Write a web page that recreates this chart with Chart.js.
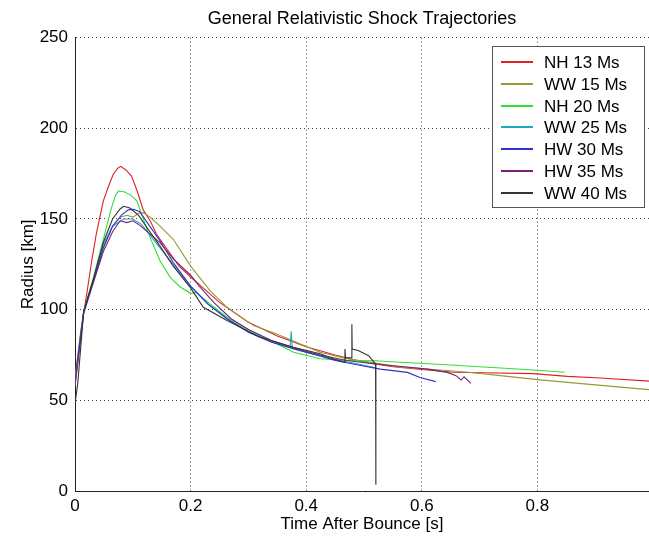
<!DOCTYPE html>
<html>
<head>
<meta charset="utf-8">
<script src="https://cdn.jsdelivr.net/npm/chart.js@4.4.0/dist/chart.umd.min.js"></script>
<style>
  html, body { margin: 0; padding: 0; background: #fff; overflow: hidden; }
  #wrap { width: 649px; height: 541px; }
</style>
</head>
<body>
<div id="wrap"><canvas id="shockChart" width="649" height="541"></canvas></div>
<script>
// shock radius [km] vs time after bounce [s]
const seriesNames = ['NH 13 Ms', 'WW 15 Ms', 'NH 20 Ms', 'WW 25 Ms', 'HW 30 Ms', 'HW 35 Ms', 'WW 40 Ms'];
const seriesColors = ['#dd2222', '#999933', '#33dd33', '#22aabb', '#3333cc', '#772277', '#333333'];

const nh13T = [0, 0.01, 0.02, 0.029, 0.037, 0.049, 0.058, 0.066, 0.074, 0.079, 0.088, 0.098, 0.108, 0.118, 0.13, 0.141, 0.16, 0.18, 0.2, 0.225, 0.25, 0.3, 0.35, 0.4, 0.45, 0.5, 0.55, 0.6, 0.655, 0.707, 0.793, 0.852, 0.909, 0.993];
const nh13R = [62, 88, 108, 127, 142, 160, 168, 174.5, 178, 179, 177, 173.5, 165, 155, 149, 141.6, 133, 124, 118, 111, 104, 93, 85.5, 79.5, 75, 71, 68.5, 67, 65.5, 65.2, 64.7, 63.2, 62.3, 60.6];

const ww15T = [0, 0.015, 0.032, 0.05, 0.065, 0.078, 0.09, 0.1, 0.11, 0.118, 0.13, 0.147, 0.17, 0.2, 0.234, 0.263, 0.309, 0.349, 0.39, 0.424, 0.47, 0.52, 0.563, 0.62, 0.68, 0.74, 0.8, 0.9, 0.993];
const ww15R = [58, 98, 117, 135, 146, 151, 152, 151, 153, 153.5, 151, 146, 138.8, 124, 110.4, 101.3, 91.2, 86.6, 81.1, 76.5, 73, 70.5, 68.3, 67, 65.5, 63.5, 61.4, 58.5, 55.9];

const nh20T = [0, 0.015, 0.032, 0.05, 0.062, 0.07, 0.075, 0.085, 0.097, 0.107, 0.118, 0.13, 0.147, 0.165, 0.182, 0.2, 0.21, 0.234, 0.263, 0.297, 0.338, 0.378, 0.424, 0.47, 0.52, 0.563, 0.62, 0.7, 0.78, 0.847];
const nh20R = [60, 99, 118, 140, 155, 163, 165.4, 165, 163, 160, 150, 139.7, 127, 117.7, 112.5, 109, 109.5, 103, 95.8, 89.4, 83, 76.5, 72.9, 72, 71.8, 71, 70, 68.5, 67, 65.5];

const ww25T = [0, 0.015, 0.032, 0.049, 0.065, 0.084, 0.1, 0.115, 0.13, 0.147, 0.17, 0.2, 0.23, 0.263, 0.3, 0.34, 0.372, 0.374, 0.376, 0.41, 0.45, 0.49, 0.52];
const ww25R = [62, 99, 117, 136, 146, 150, 150, 147, 141, 134, 125, 113, 103, 95, 88, 82.5, 79, 88, 78.5, 75.5, 72.5, 70, 68];

const hw30T = [0, 0.015, 0.032, 0.049, 0.065, 0.08, 0.092, 0.101, 0.112, 0.125, 0.147, 0.17, 0.2, 0.23, 0.263, 0.3, 0.34, 0.378, 0.424, 0.45, 0.49, 0.528, 0.575, 0.597, 0.624];
const hw30R = [60, 99, 116, 134, 146, 152, 155, 155.3, 154, 148, 138, 126, 113, 103, 95, 87.5, 82, 78.5, 74.5, 72, 69.5, 67.2, 65.4, 62.6, 60.3];

const hw35T = [0, 0.015, 0.032, 0.049, 0.065, 0.078, 0.09, 0.1, 0.11, 0.125, 0.147, 0.17, 0.19, 0.2, 0.215, 0.24, 0.27, 0.3, 0.34, 0.378, 0.424, 0.47, 0.52, 0.57, 0.61, 0.644, 0.659, 0.668, 0.673, 0.685];
const hw35R = [58, 98, 115, 132, 143, 149, 148, 149, 147, 143, 137, 128, 122, 119, 113, 104, 95, 89, 83, 79, 75, 72, 70, 68.5, 67.2, 65.4, 63.6, 61.2, 63, 59.3];

const ww40T = [0, 0.005, 0.015, 0.032, 0.049, 0.065, 0.078, 0.084, 0.095, 0.11, 0.125, 0.147, 0.17, 0.2, 0.222, 0.263, 0.32, 0.378, 0.424, 0.45, 0.466, 0.467, 0.468, 0.478, 0.479, 0.4795, 0.49, 0.508, 0.515, 0.52, 0.5205];
const ww40R = [48, 60, 99, 117, 137, 150, 155.5, 157, 156, 152, 145, 135, 124, 112, 101.3, 94, 84.8, 79.3, 75.7, 72.5, 71, 78.3, 73.5, 73.5, 92, 78.3, 77.5, 74.6, 71.9, 70, 3.5];

const seriesT = [nh13T, ww15T, nh20T, ww25T, hw30T, hw35T, ww40T];
const seriesR = [nh13R, ww15R, nh20R, ww25R, hw30R, hw35R, ww40R];

const xTicks = [0, 0.2, 0.4, 0.6, 0.8];
const yTicks = [0, 50, 100, 150, 200, 250];

const FONT = "'Liberation Sans', Arial, Helvetica, sans-serif";

function toPoints(ts, rs) {
    return ts.map((t, i) => ({ x: t, y: rs[i] }));
}

const datasets = seriesNames.map((name, i) => ({
    label: name,
    data: toPoints(seriesT[i], seriesR[i]),
    borderColor: seriesColors[i],
    backgroundColor: seriesColors[i],
    borderWidth: 1.1,
    pointRadius: 0,
    tension: 0,
    fill: false,
    order: seriesNames.length - i // later series on top, like matlab
}));

// legend box drawn inside the plot, top right
const boxLegend = {
    id: 'boxLegend',
    afterDraw(chart) {
        const ctx = chart.ctx;
        const area = chart.chartArea;
        const w = 152, h = 161;
        const x0 = Math.round(area.right - w - 5);
        const y0 = Math.round(area.top + 8);
        ctx.save();
        ctx.fillStyle = '#fff';
        ctx.fillRect(x0, y0, w, h);
        ctx.strokeStyle = '#555';
        ctx.lineWidth = 1;
        ctx.strokeRect(x0 + 0.5, y0 + 0.5, w, h);
        ctx.font = '17px ' + FONT;
        ctx.textBaseline = 'middle';
        ctx.fillStyle = '#000';
        chart.data.datasets.forEach((ds, i) => {
            const y = Math.round(y0 + 16 + i * 21.8);
            ctx.strokeStyle = ds.borderColor;
            ctx.lineWidth = 2;
            ctx.beginPath();
            ctx.moveTo(x0 + 9, y);
            ctx.lineTo(x0 + 41, y);
            ctx.stroke();
            ctx.fillText(ds.label, x0 + 52, y + 1);
        });
        ctx.restore();
    }
};

const ctx = document.getElementById('shockChart').getContext('2d');
const shockChart = new Chart(ctx, {
    type: 'line',
    data: { datasets: datasets },
    options: {
        responsive: false,
        animation: false,
        layout: { padding: { left: 0, right: 0, top: 0, bottom: 0 } },
        plugins: {
            legend: { display: false },
            tooltip: { enabled: false },
            title: {
                display: true,
                fullSize: false,
                text: 'General Relativistic Shock Trajectories',
                color: '#000',
                font: { family: FONT, size: 18, weight: 'normal' },
                padding: { top: 8, bottom: 8 }
            }
        },
        scales: {
            x: {
                type: 'linear',
                min: 0,
                max: 0.993,
                afterBuildTicks: (scale) => { scale.ticks = xTicks.map(v => ({ value: v })); },
                afterFit: (scale) => { scale.height = 50; },
                grid: { color: '#444', lineWidth: 1, drawTicks: false },
                border: { display: true, color: '#222', width: 1, dash: [1, 3] },
                ticks: {
                    color: '#000',
                    padding: 5,
                    maxRotation: 0,
                    font: { family: FONT, size: 17 },
                    callback: (v) => String(v)
                },
                title: {
                    display: true,
                    text: 'Time After Bounce [s]',
                    color: '#000',
                    font: { family: FONT, size: 17 },
                    padding: { top: 0, bottom: 6 }
                }
            },
            y: {
                type: 'linear',
                min: 0,
                max: 250,
                afterBuildTicks: (scale) => { scale.ticks = yTicks.map(v => ({ value: v })); },
                afterFit: (scale) => { scale.width = 75; },
                grid: { color: '#444', lineWidth: 1, drawTicks: false },
                border: { display: true, color: '#222', width: 1, dash: [1, 3] },
                ticks: {
                    color: '#000',
                    padding: 7,
                    font: { family: FONT, size: 17 }
                },
                title: {
                    display: true,
                    text: 'Radius [km]',
                    color: '#000',
                    font: { family: FONT, size: 17 },
                    padding: { top: 18, bottom: 2 }
                }
            }
        }
    },
    plugins: [boxLegend]
});
</script>
</body>
</html>
